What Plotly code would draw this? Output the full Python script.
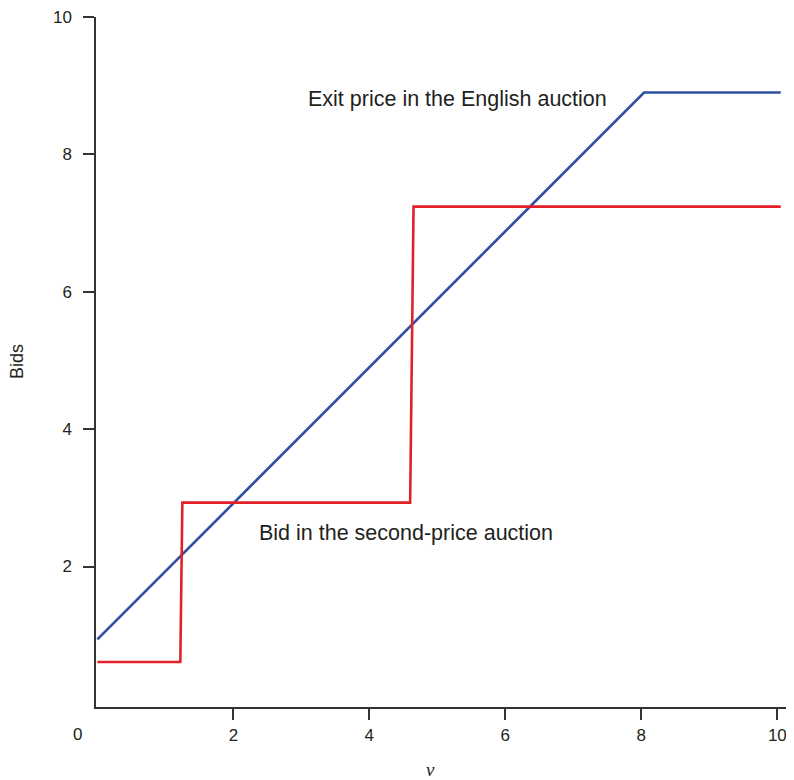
import plotly.graph_objects as go

# Data
english_v = [0.0, 8.04, 10.05]
english_bid = [0.94, 8.90, 8.90]

second_v = [0.0, 1.22, 1.25, 4.60, 4.65, 10.05]
second_bid = [0.61, 0.61, 2.93, 2.93, 7.24, 7.24]

tick_vals = [2, 4, 6, 8, 10]
tick_text = ["2", "4", "6", "8", "10"]

label_english = "Exit price in the English auction"
label_second = "Bid in the second-price auction"

BLUE = "#2f4fa2"
RED = "#e3202a"
INK = "#231f20"
FONT = "Liberation Sans, Arial, sans-serif"

fig = go.Figure()
fig.add_trace(go.Scatter(x=english_v, y=english_bid, mode="lines",
                         line=dict(color=BLUE, width=2.6), hoverinfo="skip"))
fig.add_trace(go.Scatter(x=second_v, y=second_bid, mode="lines",
                         line=dict(color=RED, width=2.6), hoverinfo="skip"))

axis_common = dict(
    showgrid=False, zeroline=False, showline=True, linecolor="#333333", linewidth=1.5,
    ticks="outside", ticklen=11, tickwidth=1.5, tickcolor="#333333",
    tickvals=tick_vals, ticktext=tick_text, ticklabeloverflow="allow",
    tickfont=dict(family=FONT, size=17, color=INK),
)

fig.update_xaxes(range=[-0.02, 10.245], ticklabelstandoff=1, **axis_common)
fig.update_yaxes(range=[-0.045, 10.0], ticklabelstandoff=8, **axis_common)

annotations = [
    dict(text=label_english, x=3.07, y=8.81, xref="x", yref="y", xanchor="left",
         yanchor="middle", showarrow=False, font=dict(family=FONT, size=21.5, color=INK)),
    dict(text=label_second, x=2.35, y=2.49, xref="x", yref="y", xanchor="left",
         yanchor="middle", showarrow=False, font=dict(family=FONT, size=21.5, color=INK)),
    dict(text="0", x=0, y=0, xref="x", yref="paper", xanchor="center", yanchor="middle",
         xshift=-20, yshift=-27, showarrow=False, font=dict(family=FONT, size=17, color=INK)),
    dict(text="Bids", x=0, y=0.5, xref="paper", yref="paper", xanchor="center",
         yanchor="middle", xshift=-79, textangle=-90, showarrow=False,
         font=dict(family=FONT, size=18, color=INK)),
    dict(text="<i>v</i>", x=4.9, y=0, xref="x", yref="paper", xanchor="center",
         yanchor="middle", yshift=-62, showarrow=False,
         font=dict(family="Liberation Serif, Times New Roman, serif", size=19, color=INK)),
]

# The page body has an 8px default margin, so the figure is offset by 8px;
# size and margins compensate so the plot area lands where the reference has it.
fig.update_layout(
    width=786, height=772,
    margin=dict(l=88, r=0, t=7, b=73),
    paper_bgcolor="white", plot_bgcolor="white",
    showlegend=False,
    annotations=annotations,
)

fig.write_html("out.html")
